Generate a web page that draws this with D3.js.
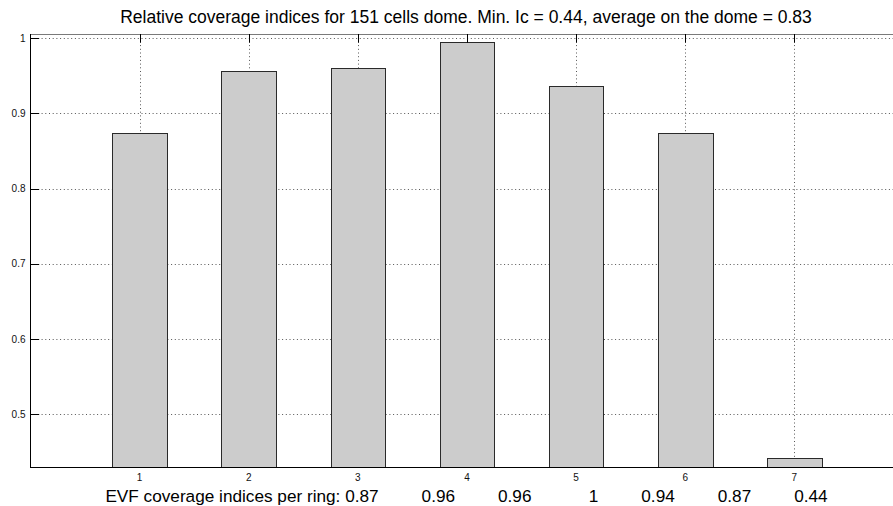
<!DOCTYPE html>
<html>
<head>
<meta charset="utf-8">
<script src="https://cdn.jsdelivr.net/npm/d3@7"></script>
<style>
  html, body { margin: 0; padding: 0; background: #fff; }
  svg { display: block; font-family: "Liberation Sans", Arial, Helvetica, sans-serif; }
</style>
</head>
<body>
<svg id="chart" width="893" height="506"></svg>
<script>
// ---- data ----
const rings = [1, 2, 3, 4, 5, 6, 7];
const coverage = [0.874, 0.956, 0.961, 0.995, 0.937, 0.874, 0.442];
const coverageLabels = ["0.87", "0.96", "0.96", "1", "0.94", "0.87", "0.44"];
const yTicks = [0.5, 0.6, 0.7, 0.8, 0.9, 1.0];
const yTickLabels = ["0.5", "0.6", "0.7", "0.8", "0.9", "1"];
const xLimits = [0, 8];
const yLimits = [0.43, 1.0057];
const titleText = "Relative coverage indices for 151 cells dome. Min. Ic = 0.44, average on the dome = 0.83";
const xLabelPrefix = "EVF coverage indices per ring: ";

// ---- layout ----
const W = 893, H = 506;
const plot = { left: 30.5, right: 903.5, top: 34, bottom: 467 };
const svg = d3.select("#chart");

const x = d3.scaleLinear().domain(xLimits).range([plot.left, plot.right]);
const y = d3.scaleLinear().domain(yLimits).range([plot.bottom, plot.top]);
const tickLen = 8.7;
const barHalf = 0.25;

// grid
const grid = svg.append("g").attr("stroke", "#555").attr("stroke-width", 1)
  .attr("stroke-dasharray", "1,2.7").attr("fill", "none");
grid.selectAll("line.h").data(yTicks).join("line").attr("class", "h")
  .attr("x1", plot.left).attr("x2", W)
  .attr("y1", d => Math.round(y(d)) + 0.5).attr("y2", d => Math.round(y(d)) + 0.5);
grid.selectAll("line.v").data(rings).join("line").attr("class", "v")
  .attr("x1", d => Math.round(x(d)) + 0.5).attr("x2", d => Math.round(x(d)) + 0.5)
  .attr("y1", plot.top).attr("y2", plot.bottom);

// bars
svg.append("g").selectAll("rect").data(rings).join("rect")
  .attr("x", (d) => Math.round(x(d - barHalf)) + 0.5)
  .attr("width", (d) => Math.round(x(d + barHalf)) - Math.round(x(d - barHalf)))
  .attr("y", (d, i) => Math.round(y(coverage[i])) + 0.5)
  .attr("height", (d, i) => Math.round(plot.bottom) - Math.round(y(coverage[i])))
  .attr("fill", "#cccccc")
  .attr("stroke", "#2a2a2a")
  .attr("stroke-width", 1);

// axes lines
const axes = svg.append("g").attr("fill", "none");
axes.append("line").attr("x1", plot.left).attr("x2", W).attr("y1", plot.top + 0.5).attr("y2", plot.top + 0.5)
  .attr("stroke", "#7a7a7a").attr("stroke-width", 1.2);
axes.append("line").attr("x1", plot.left).attr("x2", W).attr("y1", plot.bottom + 0.5).attr("y2", plot.bottom + 0.5)
  .attr("stroke", "#000");
axes.append("line").attr("x1", Math.round(plot.left) - 0.5).attr("x2", Math.round(plot.left) - 0.5)
  .attr("y1", plot.top).attr("y2", plot.bottom + 1)
  .attr("stroke", "#000");

// y ticks (inward)
axes.selectAll("line.yt").data(yTicks).join("line").attr("class", "yt")
  .attr("x1", plot.left).attr("x2", plot.left + tickLen)
  .attr("y1", d => Math.round(y(d)) + 0.5).attr("y2", d => Math.round(y(d)) + 0.5)
  .attr("stroke", "#000");
// x ticks at top (inward)
axes.selectAll("line.xt").data(rings).join("line").attr("class", "xt")
  .attr("x1", d => Math.round(x(d)) + 0.5).attr("x2", d => Math.round(x(d)) + 0.5)
  .attr("y1", plot.top).attr("y2", plot.top + tickLen)
  .attr("stroke", "#000");

// tick labels
svg.append("g").selectAll("text").data(yTicks).join("text")
  .attr("x", plot.left - 5).attr("y", d => y(d) + 3.5)
  .attr("text-anchor", "end").attr("font-size", 10).attr("fill", "#111")
  .text((d, i) => yTickLabels[i]);
svg.append("g").selectAll("text").data(rings).join("text")
  .attr("x", d => x(d)).attr("y", plot.bottom + 14)
  .attr("text-anchor", "middle").attr("font-size", 10).attr("fill", "#111")
  .text(d => d);

// title
svg.append("text").attr("x", (plot.left + plot.right) / 2 - 1).attr("y", 23.3)
  .attr("text-anchor", "middle").attr("font-size", 17.5).attr("fill", "#000")
  .text(titleText);

// x label (fixed-width columns, like num2str of a vector)
const sep = " ".repeat(9);
svg.append("text").attr("x", (plot.left + plot.right) / 2 - 0.5).attr("y", 501.7)
  .attr("text-anchor", "middle").attr("font-size", 17.2).attr("fill", "#000")
  .attr("xml:space", "preserve").style("white-space", "pre")
  .text(xLabelPrefix + coverageLabels.map(s => s.padStart(4, " ")).join(sep));
</script>
</body>
</html>
